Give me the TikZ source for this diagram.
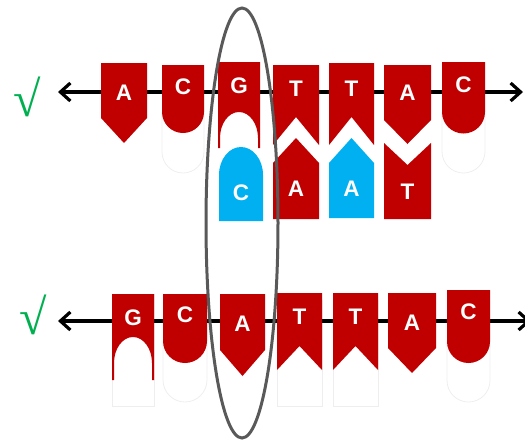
\documentclass[tikz,border=0pt]{standalone}
\usepackage{fontspec}
\setsansfont{Liberation Sans}
\newfontfamily\checkfont{Liberation Serif}
\usetikzlibrary{arrows.meta}

\definecolor{dnared}{HTML}{C00000}
\definecolor{dnablue}{HTML}{00B0F0}
\definecolor{okgreen}{HTML}{00B050}
\definecolor{ringgray}{HTML}{595959}
\definecolor{ghostgray}{HTML}{EEEEEE}

\tikzset{
  red base/.style={fill=dnared},
  blue base/.style={fill=dnablue},
  ghost/.style={draw=ghostgray, line width=0.8pt},
  strand/.style={line width=3.2pt,
    {Straight Barb[length=10pt,width=18pt,line width=3.2pt]}-{Straight Barb[length=10pt,width=18pt,line width=3.2pt]}},
  letter/.style={text=white, inner sep=0pt,
    font=\sffamily\bfseries\fontsize{22.5}{22.5}\selectfont},
  check/.style={text=okgreen, inner sep=0pt,
    font=\checkfont\fontsize{50}{50}\selectfont},
  ring/.style={draw=ringgray, line width=3pt},
}

\begin{document}
\begin{tikzpicture}[x=1pt,y=-1pt]
  \clip (0,0) rectangle (525,440);

  % upper strand with its partner bases
  \coordinate (up west) at (58,92);
  \coordinate (up east) at (523,92);

  \draw[ghost] (162,112) -- (162,152) arc[start angle=180,end angle=0,radius=21] -- (204,112);
  \draw[ghost] (442,112) -- (442,151.5) arc[start angle=180,end angle=0,radius=21.5] -- (485,112);
  \draw[strand] (up west) -- (up east);

  \fill[red base] (101,63) -- (147,63) -- (147,118) -- (124,143) -- (101,118) -- cycle;
  \fill[red base] (162,65) -- (204,65) -- (204,112) arc[start angle=0,end angle=180,radius=21] -- cycle;
  \fill[red base] (218,62) -- (260,62) -- (260,148) -- (258,148) -- (258,138)
    arc[start angle=0,end angle=-180,x radius=19,y radius=26] -- (220,148) -- (218,148) -- cycle;
  \fill[red base] (273,65) -- (319,65) -- (319,145) -- (296,117) -- (273,145) -- cycle;
  \fill[red base] (329,63) -- (374,63) -- (374,145) -- (351.5,117) -- (329,145) -- cycle;
  \fill[red base] (384,65) -- (431,65) -- (431,120) -- (407.5,144) -- (384,120) -- cycle;
  \fill[red base] (442,62) -- (485,62) -- (485,112) arc[start angle=0,end angle=180,radius=21.5] -- cycle;

  \fill[blue base] (219,221) -- (219,175) arc[start angle=180,end angle=360,x radius=22,y radius=28] -- (263,221) -- cycle;
  \fill[red base] (273,163) -- (296,138) -- (319,163) -- (319,219) -- (273,219) -- cycle;
  \fill[blue base] (329,163) -- (351.5,138) -- (374,163) -- (374,218) -- (329,218) -- cycle;
  \fill[red base] (384,143) -- (407.5,165) -- (431,143) -- (431,219) -- (384,219) -- cycle;

  \node[letter] (uA) at (124,93) {A};
  \node[letter] (uC) at (183,87) {C};
  \node[letter] (uG) at (239,86) {G};
  \node[letter] (uT) at (296,89) {T};
  \node[letter] (uT2) at (351.5,89) {T};
  \node[letter] (uA2) at (407.5,93) {A};
  \node[letter] (uC2) at (463.5,85) {C};
  \node[letter] (pC) at (241,193) {C};
  \node[letter] (pA) at (296,189) {A};
  \node[letter] (pA2) at (351.5,189) {A};
  \node[letter] (pT) at (407.5,192) {T};

  \node[check] (ok up) at (27,97) {√};

  % lower strand, nothing paired
  \coordinate (low west) at (58,321);
  \coordinate (low east) at (531,321);

  \draw[ghost] (112,294) rectangle (154,406);
  \draw[ghost] (163,341) -- (163,380) arc[start angle=180,end angle=0,radius=22] -- (207,341);
  \draw[ghost] (277,300) rectangle (322,406);
  \draw[ghost] (333,300) rectangle (378,406);
  \draw[ghost] (447,341) -- (447,380.5) arc[start angle=180,end angle=0,radius=21.5] -- (490,341);
  \draw[strand] (low west) -- (low east);

  \fill[red base] (112,294) -- (154,294) -- (154,380) -- (152,380) -- (152,363)
    arc[start angle=0,end angle=-180,x radius=19,y radius=26] -- (114,380) -- (112,380) -- cycle;
  \fill[red base] (163,294) -- (207,294) -- (207,341) arc[start angle=0,end angle=180,radius=22] -- cycle;
  \fill[red base] (220,294) -- (265,294) -- (265,350) -- (242.5,376) -- (220,350) -- cycle;
  \fill[red base] (277,293) -- (322,293) -- (322,370) -- (299.5,346) -- (277,370) -- cycle;
  \fill[red base] (333,293) -- (378,293) -- (378,370) -- (355.5,346) -- (333,370) -- cycle;
  \fill[red base] (388,293) -- (436,293) -- (436,348) -- (412,373) -- (388,348) -- cycle;
  \fill[red base] (447,290) -- (490,290) -- (490,341.5) arc[start angle=0,end angle=180,radius=21.5] -- cycle;

  \node[letter] (lG) at (133,318) {G};
  \node[letter] (lC) at (185,315) {C};
  \node[letter] (lA) at (242.5,324) {A};
  \node[letter] (lT) at (299.5,317) {T};
  \node[letter] (lT2) at (355.5,317) {T};
  \node[letter] (lA2) at (412,323) {A};
  \node[letter] (lC2) at (468.5,312) {C};

  \node[check] (ok low) at (33,315) {√};

  % the mismatch under study
  \draw[ring] (242,223) ellipse[x radius=36,y radius=215];
\end{tikzpicture}
\end{document}
